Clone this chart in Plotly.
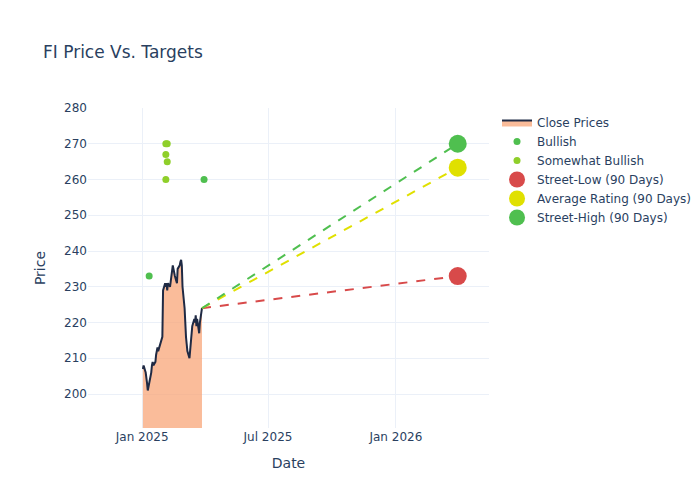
import pandas as pd
import plotly.graph_objects as go

close = [207,208,206,205,203,201,202,204,206,208,209,208,209,211,212,213,212,214,215,216,216,
         229,231,230,231,229,231,230,232,234,236,236,233,232,232,231,235,236,237,237.5,236,
         230,224,218,216,214,212,210,213,216,218,219,221,220,222,219,221,217,220,222,223,224]
dates = pd.bdate_range("2025-01-02", periods=len(close))

bull_dates = ["2025-01-11", "2025-03-31"]
bull_vals = [233, 260]
sb_dates = ["2025-02-04", "2025-02-04", "2025-02-04", "2025-02-06", "2025-02-06"]
sb_vals = [270, 267, 260, 270, 265]

target_date = "2026-03-31"
low_t, avg_t, high_t = 233, 263.3, 270

last_date = dates[-1]
last_close = close[-1]
targets = [(low_t, "#d84a4a", "Street-Low (90 Days)"),
           (avg_t, "#e0e000", "Average Rating (90 Days)"),
           (high_t, "#4fbf4f", "Street-High (90 Days)")]

fig = go.Figure()
fig.add_trace(go.Scatter(x=dates, y=close, mode="lines", name="Close Prices",
                         line=dict(color="#1f2a44", width=2), fill="tozeroy",
                         fillcolor="rgba(248,165,120,0.75)"))
fig.add_trace(go.Scatter(x=bull_dates, y=bull_vals, mode="markers", name="Bullish",
                         marker=dict(color="#4fbf4f", size=7)))
fig.add_trace(go.Scatter(x=sb_dates, y=sb_vals, mode="markers", name="Somewhat Bullish",
                         marker=dict(color="#8fcf2a", size=7)))
for val, col, nm in targets:
    fig.add_trace(go.Scatter(x=[last_date, target_date], y=[last_close, val], mode="lines",
                             line=dict(color=col, dash="dash", width=2), showlegend=False))
for val, col, nm in targets:
    fig.add_trace(go.Scatter(x=[target_date], y=[val], mode="markers", name=nm,
                             marker=dict(color=col, size=18)))

fig.update_layout(template="plotly_white", width=700, height=500,
                  font=dict(family="DejaVu Sans", size=12),
                  title="FI Price Vs. Targets", xaxis_title="Date", yaxis_title="Price",
                  margin=dict(t=100),
                  xaxis=dict(range=["2024-10-15", "2026-05-15"],
                             tickvals=["2025-01-01", "2025-07-01", "2026-01-01"],
                             ticktext=["Jan 2025", "Jul 2025", "Jan 2026"]),
                  yaxis=dict(range=[190.5, 280], dtick=10))
fig.write_html("out.html")
